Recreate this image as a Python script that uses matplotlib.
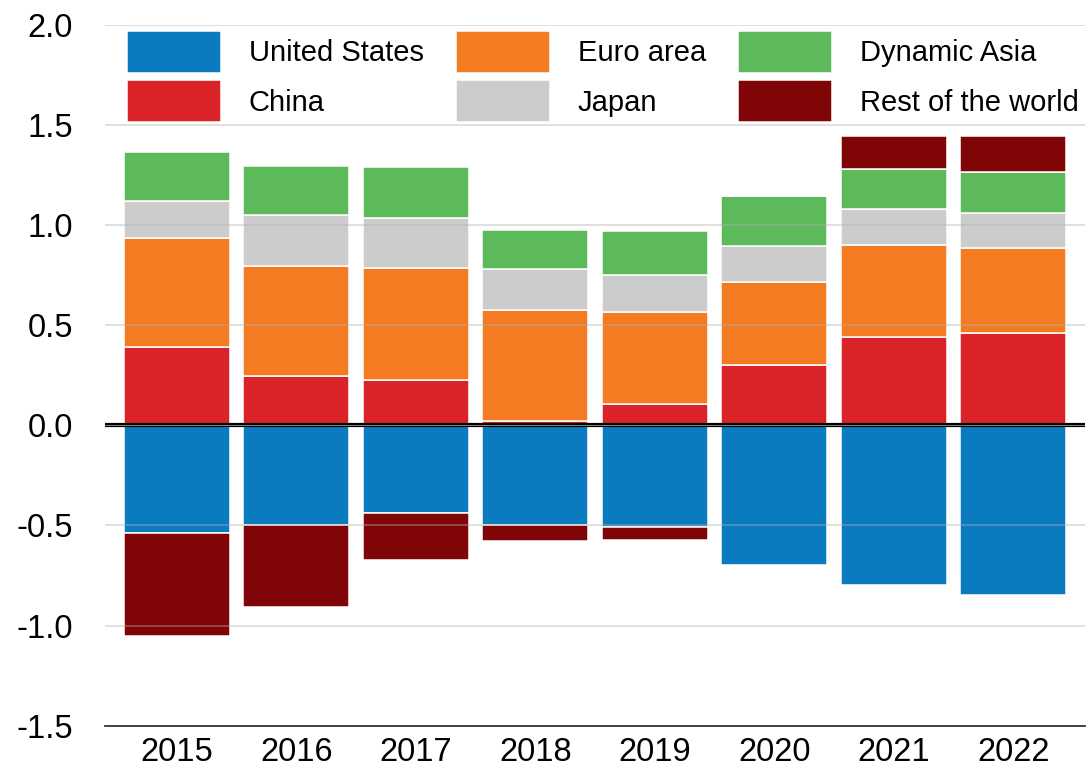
import numpy as np
import matplotlib
matplotlib.use("Agg")
import matplotlib.pyplot as plt

plt.rcParams["font.family"] = ["Liberation Sans", "DejaVu Sans"]

# ===== Data =====
years = ["2015", "2016", "2017", "2018", "2019", "2020", "2021", "2022"]
united_states = [-0.54, -0.50, -0.44, -0.50, -0.51, -0.70, -0.80, -0.85]
china = [0.39, 0.246, 0.228, 0.024, 0.109, 0.301, 0.444, 0.461]
euro_area = [0.545, 0.553, 0.56, 0.553, 0.457, 0.415, 0.457, 0.427]
japan = [0.188, 0.252, 0.251, 0.204, 0.187, 0.182, 0.18, 0.174]
dynamic_asia = [0.245, 0.247, 0.252, 0.198, 0.22, 0.25, 0.203, 0.205]
rest_of_world = [-0.51, -0.407, -0.235, -0.077, -0.062, 0.0, 0.164, 0.182]

series = [
    ("United States", united_states, "#0A7BBF"),
    ("China", china, "#DA2229"),
    ("Euro area", euro_area, "#F47B22"),
    ("Japan", japan, "#CCCCCC"),
    ("Dynamic Asia", dynamic_asia, "#5CBA5A"),
    ("Rest of the world", rest_of_world, "#800506"),
]

# ===== Chart =====
fig = plt.figure(figsize=(10.92, 7.71), dpi=100)
ax = fig.add_axes([0.0962, 0.059, 0.8974, 0.908])

x = np.arange(len(years))
pos_bottom = np.zeros(len(years))
neg_bottom = np.zeros(len(years))
handles = []
for name, vals, color in series:
    vals = np.array(vals)
    bottom = np.where(vals >= 0, pos_bottom, neg_bottom)
    bars = ax.bar(x, vals, width=0.887, bottom=bottom, color=color,
                  edgecolor="white", linewidth=1.1, label=name, zorder=2)
    handles.append(bars)
    pos_bottom += np.where(vals >= 0, vals, 0)
    neg_bottom += np.where(vals < 0, vals, 0)

ax.set_xlim(-0.6, 7.6)
ax.set_ylim(-1.5, 2.0)
ax.set_yticks(np.arange(-1.5, 2.01, 0.5))
ax.set_yticklabels([f"{v:.1f}" for v in np.arange(-1.5, 2.01, 0.5)])
ax.set_xticks(x)
ax.set_xticklabels(years)
ax.tick_params(axis="both", length=0, labelsize=23.5)
ax.tick_params(axis="y", pad=23)
ax.tick_params(axis="x", pad=8.5)

for v in np.arange(-1.0, 2.01, 0.5):
    ax.axhline(v, color="#b0b0b0", lw=1.1, alpha=0.5, zorder=3)
ax.axhline(0, color="black", lw=3, zorder=4)
ax.axhline(0, color="#9a9a9a", lw=0.6, zorder=5)

for side in ["top", "right", "left"]:
    ax.spines[side].set_visible(False)
ax.spines["bottom"].set_position(("data", -1.5))
ax.spines["bottom"].set_color("#333333")
ax.spines["bottom"].set_linewidth(1.3)

ax.legend(handles=handles, ncol=3, frameon=False, fontsize=21,
          loc="upper left", bbox_to_anchor=(127 / 1092, 1 - 31 / 771),
          bbox_transform=fig.transFigure, borderaxespad=0, borderpad=0,
          handlelength=3.22, handleheight=1.84, handletextpad=0.96,
          columnspacing=1.1, labelspacing=0.25)

fig.savefig("out.png", dpi=100)
